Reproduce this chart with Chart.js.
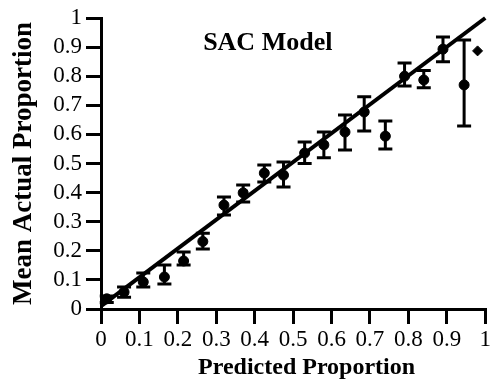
<!DOCTYPE html>
<html>
<head>
<meta charset="utf-8">
<script src="https://cdn.jsdelivr.net/npm/chart.js@4/dist/chart.umd.min.js"></script>
<style>
  html, body { margin: 0; padding: 0; background: #fff; }
  #wrap { width: 493px; height: 385px; position: relative; }
</style>
</head>
<body>
<div id="wrap"><canvas id="c" width="493" height="385"></canvas></div>
<script>
// ---- data ----
const predicted = [0.015, 0.06, 0.11, 0.165, 0.215, 0.265, 0.32, 0.37, 0.425, 0.475, 0.53, 0.58, 0.635, 0.685, 0.74, 0.79, 0.84, 0.89, 0.945];
const actual    = [0.035, 0.058, 0.093, 0.11, 0.165, 0.232, 0.357, 0.399, 0.467, 0.46, 0.536, 0.564, 0.608, 0.677, 0.594, 0.80, 0.787, 0.893, 0.77];
const lowerErr  = [0.022, 0.04, 0.076, 0.086, 0.151, 0.206, 0.323, 0.368, 0.436, 0.419, 0.50, 0.52, 0.546, 0.612, 0.55, 0.766, 0.76, 0.85, 0.629];
const upperErr  = [0.045, 0.076, 0.124, 0.151, 0.196, 0.26, 0.385, 0.426, 0.495, 0.505, 0.574, 0.608, 0.667, 0.729, 0.646, 0.845, 0.82, 0.935, 0.924];
const extraX = [0.98];
const extraY = [0.887];
const fitX = [0, 1];
const fitY = [0.01, 1];
const xTickLabels = ['0','0.1','0.2','0.3','0.4','0.5','0.6','0.7','0.8','0.9','1'];
const yTickLabels = ['0','0.1','0.2','0.3','0.4','0.5','0.6','0.7','0.8','0.9','1'];
const xAxisTitle = 'Predicted Proportion';
const yAxisTitle = 'Mean Actual Proportion';
const annotationText = 'SAC Model';
const annotationPos = {x: 0.434, y: 0.914};
const xTitleCenter = 0.535;

const serif = "'Liberation Serif', 'DejaVu Serif', serif";

const errorBarPlugin = {
  id: 'errorBars',
  afterDatasetsDraw(chart) {
    const {ctx, scales: {x, y}} = chart;
    ctx.save();
    ctx.strokeStyle = '#000';
    ctx.lineWidth = 3;
    ctx.lineCap = 'butt';
    for (let i = 0; i < predicted.length; i++) {
      const px = x.getPixelForValue(predicted[i]);
      const pl = y.getPixelForValue(lowerErr[i]);
      const pu = y.getPixelForValue(upperErr[i]);
      ctx.beginPath();
      ctx.moveTo(px, pl); ctx.lineTo(px, pu);
      ctx.moveTo(px - 7, pl); ctx.lineTo(px + 7, pl);
      ctx.moveTo(px - 7, pu); ctx.lineTo(px + 7, pu);
      ctx.stroke();
    }
    ctx.fillStyle = '#000';
    ctx.textAlign = 'center';
    ctx.textBaseline = 'middle';
    // annotation text
    ctx.font = "bold 26px " + serif;
    ctx.fillText(annotationText, x.getPixelForValue(annotationPos.x), y.getPixelForValue(annotationPos.y));
    // x axis title
    ctx.font = "bold 24px " + serif;
    ctx.fillText(xAxisTitle, x.getPixelForValue(xTitleCenter), x.bottom - 17);
    ctx.restore();
  }
};

new Chart(document.getElementById('c'), {
  type: 'scatter',
  data: {
    datasets: [
      {
        label: 'fit',
        type: 'line',
        data: fitX.map((v, i) => ({x: v, y: fitY[i]})),
        borderColor: '#000',
        borderWidth: 4,
        pointRadius: 0,
        showLine: true,
        fill: false
      },
      {
        label: 'mean',
        data: predicted.map((v, i) => ({x: v, y: actual[i]})),
        backgroundColor: '#000',
        borderColor: '#000',
        pointRadius: 5,
        pointStyle: 'circle'
      },
      {
        label: 'extra',
        data: extraX.map((v, i) => ({x: v, y: extraY[i]})),
        backgroundColor: '#000',
        borderColor: '#000',
        pointRadius: 5,
        pointStyle: 'rectRot'
      }
    ]
  },
  options: {
    responsive: false,
    animation: false,
    devicePixelRatio: 1,
    clip: false,
    layout: { padding: { top: 18, right: 6, left: 0, bottom: 0 } },
    plugins: { legend: { display: false }, tooltip: { enabled: false } },
    scales: {
      x: {
        type: 'linear', min: 0, max: 1,
        afterFit(s) { s.height = 76; },
        border: { display: true, color: '#000', width: 3 },
        grid: { drawOnChartArea: false, drawTicks: true, tickLength: 15, lineWidth: 3, color: '#000' },
        ticks: {
          stepSize: 0.1, color: '#000', padding: 2, maxRotation: 0, autoSkip: false,
          font: { family: serif, size: 23 },
          callback: (v) => xTickLabels[Math.round(v * 10)]
        },
        title: { display: false }
      },
      y: {
        type: 'linear', min: 0, max: 1,
        afterFit(s) { s.width = 101; },
        border: { display: true, color: '#000', width: 3 },
        grid: { drawOnChartArea: false, drawTicks: true, tickLength: 15, lineWidth: 3, color: '#000' },
        ticks: {
          stepSize: 0.1, color: '#000', padding: 4, autoSkip: false,
          font: { family: serif, size: 23 },
          callback: (v) => yTickLabels[Math.round(v * 10)]
        },
        title: {
          display: true, text: yAxisTitle, color: '#000',
          font: { family: serif, size: 27, weight: 'bold' },
          padding: { top: 8, bottom: 0 }
        }
      }
    }
  },
  plugins: [errorBarPlugin]
});
</script>
</body>
</html>
